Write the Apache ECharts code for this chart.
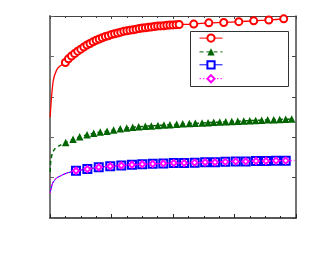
<!DOCTYPE html>
<html>
<head>
<meta charset="utf-8">
<script src="https://cdn.jsdelivr.net/npm/echarts@6/dist/echarts.min.js"></script>
<style>html,body{margin:0;padding:0;background:#fff}#c{width:313px;height:263px}</style>
</head>
<body>
<div id="c"></div>
<script>
// Series names (legend has no visible text in the reference)
var seriesNames = ['A', 'B', 'C', 'D'];

// Red: lead-in curve (no markers) and marker points
var redLeadX = [0.01, 0.1, 0.22, 0.43, 0.65];
var redLeadY = [2.5, 3.0, 3.42, 3.66, 3.76];
var redX = [1.0,1.2,1.4,1.6,1.8,2.0,2.2,2.4,2.6,2.8,3.0,3.2,3.4,3.6,3.8,4.0,4.2,4.4,4.6,4.8,5.0,5.2,5.4,5.6,5.8,6.0,6.2,6.4,6.6,6.8,7.0,7.2,7.4,7.6,7.8,8.0,8.2,8.4,
            9.35,10.33,11.3,12.28,13.25,14.23,15.2];
var redY = [3.85,3.94,4.01,4.07,4.13,4.18,4.23,4.28,4.32,4.36,4.40,4.43,4.46,4.49,4.51,4.54,4.56,4.58,4.60,4.62,4.635,4.65,4.66,4.675,4.69,4.70,4.71,4.72,4.73,4.74,4.75,4.755,4.76,4.77,4.775,4.78,4.785,4.79,
            4.80,4.83,4.84,4.86,4.88,4.90,4.93];

// Green
var greenLeadX = [0.01, 0.05, 0.15, 0.33, 0.65];
var greenLeadY = [1.14, 1.42, 1.60, 1.72, 1.80];
var greenX = [1.02,1.50,1.93,2.41,2.84,3.27,3.71,4.14,4.57,4.99,5.38,5.77,6.20,6.59,7.02,7.41,7.80,8.24,8.63,9.06,9.45,9.89,10.28,10.65,11.04,11.43,11.82,12.21,12.60,12.99,13.38,13.77,14.16,14.55,14.94,15.33,15.72];
var greenY = [1.87,1.95,2.01,2.06,2.10,2.13,2.15,2.18,2.21,2.23,2.245,2.26,2.27,2.28,2.29,2.30,2.31,2.32,2.33,2.34,2.345,2.35,2.36,2.37,2.375,2.38,2.39,2.395,2.40,2.41,2.415,2.42,2.43,2.435,2.44,2.445,2.45];

// Blue and magenta (coincide)
var blueLeadX = [0.01, 0.17, 0.43, 1.08];
var blueLeadY = [0.62, 0.86, 0.99, 1.11];
var blueX = [1.69,2.43,3.17,3.92,4.64,5.33,6.00,6.68,7.37,8.05,8.72,9.41,10.09,10.73,11.40,12.08,12.73,13.40,14.05,14.70,15.33];
var blueY = [1.17,1.21,1.255,1.28,1.30,1.32,1.33,1.34,1.35,1.36,1.36,1.37,1.38,1.38,1.39,1.40,1.40,1.41,1.41,1.42,1.42];
var magentaX = blueX.slice();
var magentaY = blueY.slice();
var magentaTailX = [15.9];
var magentaTailY = [1.425];

function build(leadX, leadY, xs, ys, tailX, tailY) {
  var d = [];
  for (var i = 0; i < leadX.length; i++) d.push({ value: [leadX[i], leadY[i]], symbol: 'none' });
  for (var j = 0; j < xs.length; j++) d.push([xs[j], ys[j]]);
  if (tailX) for (var k = 0; k < tailX.length; k++) d.push({ value: [tailX[k], tailY[k]], symbol: 'none' });
  return d;
}

var chart = echarts.init(document.getElementById('c'), null, { renderer: 'canvas' });

var xBase = {
  type: 'value', min: 0, max: 16, interval: 4,
  axisLabel: { show: false }, splitLine: { show: false }
};
var yBase = {
  type: 'value', min: 0, max: 5, interval: 1,
  axisLabel: { show: false }, splitLine: { show: false }
};

chart.setOption({
  animation: false,
  backgroundColor: '#ffffff',
  grid: { left: 50, top: 16, right: 17, bottom: 45 },
  xAxis: [
    Object.assign({}, xBase, {
      position: 'bottom',
      axisLine: { lineStyle: { color: '#222', width: 1.5 } },
      axisTick: { inside: true, length: 4, lineStyle: { color: '#222' } },
      minorTick: { show: true, splitNumber: 4, length: 2, lineStyle: { color: '#222' } }
    }),
    Object.assign({}, xBase, {
      position: 'top',
      axisLine: { onZero: false, lineStyle: { color: '#444', width: 1.2 } },
      axisTick: { inside: true, length: 3, lineStyle: { color: '#444' } },
      minorTick: { show: true, splitNumber: 4, length: 2, lineStyle: { color: '#444' } }
    })
  ],
  yAxis: [
    Object.assign({}, yBase, {
      position: 'left',
      axisLine: { show: true, lineStyle: { color: '#777', width: 2 } },
      axisTick: { show: true, inside: true, length: 4, lineStyle: { color: '#666' } }
    }),
    Object.assign({}, yBase, {
      position: 'right',
      axisLine: { show: true, onZero: false, lineStyle: { color: '#444', width: 1.5 } },
      axisTick: { show: true, inside: true, length: 4, lineStyle: { color: '#444' } }
    })
  ],
  legend: {
    orient: 'vertical',
    left: 199, top: 33.5,
    itemWidth: 23, itemHeight: 9, itemGap: 4.7,
    padding: 0,
    selectedMode: false,
    lineStyle: { width: 1 },
    itemStyle: { borderWidth: 1 },
    formatter: function () { return ''; },
    data: seriesNames
  },
  graphic: [{
    type: 'rect', left: 190, top: 31, z: 0,
    shape: { width: 98, height: 55 },
    style: { fill: '#fff', stroke: '#333', lineWidth: 1 }
  }],
  series: [
    {
      name: seriesNames[0], type: 'line', xAxisIndex: 0, yAxisIndex: 0,
      data: build(redLeadX, redLeadY, redX, redY),
      symbol: 'emptyCircle', symbolSize: 7, smooth: 0.2,
      lineStyle: { color: '#ff0000', width: 1.3 },
      itemStyle: { color: '#ff0000', borderWidth: 1 },
      z: 4
    },
    {
      name: seriesNames[1], type: 'line', xAxisIndex: 0, yAxisIndex: 0,
      data: build(greenLeadX, greenLeadY, greenX, greenY),
      symbol: 'triangle', symbolSize: 7.5, smooth: 0.2,
      lineStyle: { color: '#006400', width: 1.5, type: [4, 3] },
      itemStyle: { color: '#006400' },
      z: 3
    },
    {
      name: seriesNames[2], type: 'line', xAxisIndex: 0, yAxisIndex: 0,
      data: build(blueLeadX, blueLeadY, blueX, blueY),
      symbol: 'emptyRect', symbolSize: 8, smooth: 0.2,
      lineStyle: { color: '#0000ff', width: 1 },
      itemStyle: { color: '#0000ff', borderWidth: 1.6 },
      z: 2
    },
    {
      name: seriesNames[3], type: 'line', xAxisIndex: 0, yAxisIndex: 0,
      data: build(blueLeadX, blueLeadY, magentaX, magentaY, magentaTailX, magentaTailY),
      symbol: 'emptyDiamond', symbolSize: 6, smooth: 0.2,
      lineStyle: { color: '#ff00ff', width: 1.5, type: [1.5, 2] },
      itemStyle: { color: '#ff00ff', borderWidth: 1.2 },
      z: 5
    }
  ]
});
</script>
</body>
</html>
